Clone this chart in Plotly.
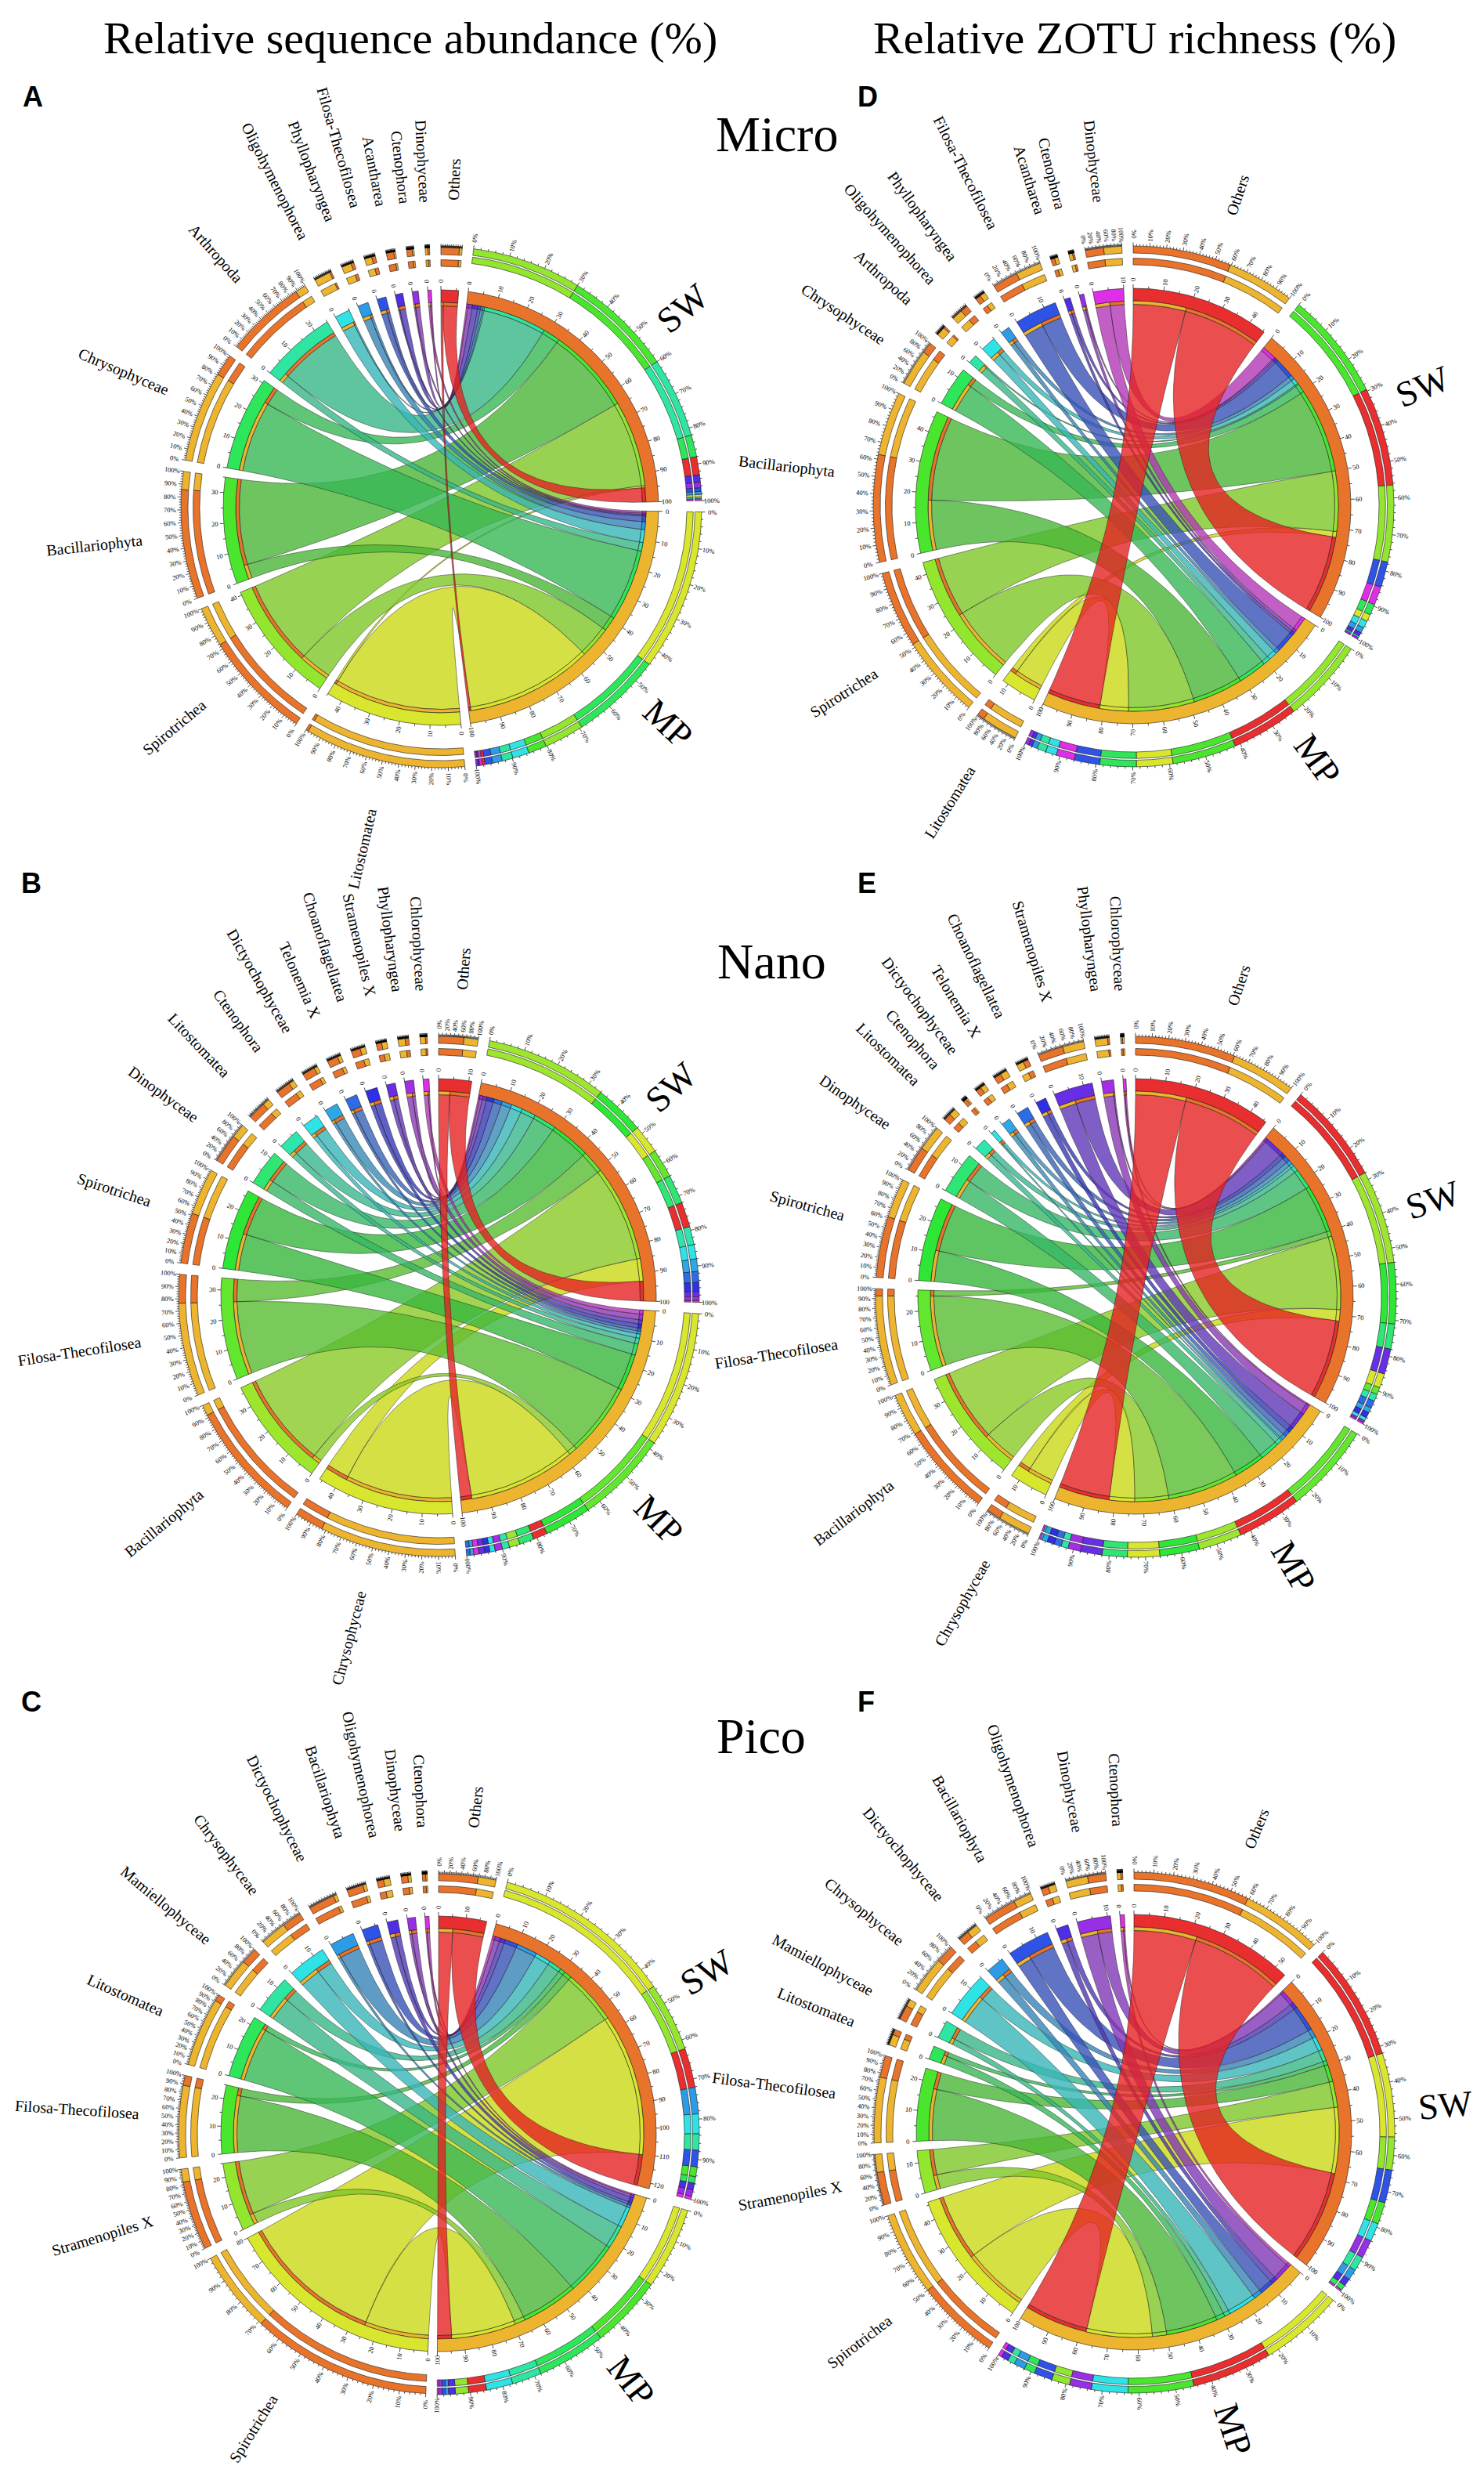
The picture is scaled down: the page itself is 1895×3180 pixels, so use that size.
import colorsys
import numpy as np
import plotly.graph_objects as go

W, H = 1895, 3180

# taxa are listed with "Others" first, then clockwise from the MP segment
# values: share of the SW and MP totals (%)

# A - Micro, sequence abundance
a_taxa = ["Others", "Litostomatea", "Spirotrichea", "Bacillariophyta", "Chrysophyceae", "Arthropoda",
          "Oligohymenophorea", "Phyllopharyngea", "Filosa-Thecofilosea", "Acantharea", "Ctenophora", "Dinophyceae"]
a_sw = [5, 0.7, 30, 30, 6, 22, 0.5, 0.8, 1, 2, 1.5, 0.5]
a_mp = [0.8, 44.3, 11, 5, 25, 3, 4.5, 2.7, 2, 0.5, 0.5, 0.7]

# D - Micro, ZOTU richness
d_taxa = a_taxa
d_sw = [27, 2, 21, 29.5, 3, 0.5, 2, 1.5, 7, 1, 0.5, 5]
d_mp = [18.5, 10, 23, 17.5, 10, 2.5, 3, 1.5, 7, 1, 1, 5]

# B - Nano, sequence abundance
b_taxa = ["Others", "Chrysophyceae", "Bacillariophyta", "Filosa-Thecofilosea", "Spirotrichea", "Dinophyceae",
          "Litostomatea", "Ctenophora", "Dictyochophyceae", "Telonemia X", "Choanoflagellatea",
          "Stramenopiles X", "Phyllopharyngea", "Chlorophyceae"]
b_sw = [7, 8, 34, 8, 14, 8, 5, 4, 3.5, 3, 2.5, 1.5, 1, 0.5]
b_mp = [4, 38, 3, 26, 13, 4, 2, 1.5, 1, 1, 1.5, 1.5, 2, 1.5]

# E - Nano, ZOTU richness
e_taxa = b_taxa
e_sw = [28, 4, 26, 2, 17, 7, 2, 1, 1.5, 2, 1.5, 7, 0.5, 0.5]
e_mp = [18, 9, 12, 25, 11, 7, 2, 0.5, 1.5, 2, 2, 6, 3.5, 0.5]

# C - Pico, sequence abundance (SW axis runs to ~122)
c_taxa = ["Others", "Spirotrichea", "Stramenopiles X", "Filosa-Thecofilosea", "Litostomatea", "Mamiellophyceae",
          "Chrysophyceae", "Dictyochophyceae", "Bacillariophyta", "Oligohymenophorea", "Dinophyceae", "Ctenophora"]
c_sw = [12, 55, 21, 3, 2, 5, 6, 8, 5, 2, 2, 1]
c_mp = [5.5, 25, 4, 22, 21, 9, 8, 1, 1, 2, 1, 0.5]

# F - Pico, ZOTU richness
f_taxa = c_taxa
f_sw = [32, 23, 9, 6, 1.5, 4, 5, 3, 9, 2, 5, 0.5]
f_mp = [22, 23, 5, 18, 3, 2, 10, 3, 5, 2, 6, 1]

# centre of each wheel and where its SW / MP labels sit (degrees clockwise from top)
panels = [
    dict(taxa=a_taxa, sw=a_sw, mp=a_mp, cx=555, cy=640, lab=(50.5, 133.5)),
    dict(taxa=d_taxa, sw=d_sw, mp=d_mp, cx=1439, cy=638, lab=(67.6, 144)),
    dict(taxa=b_taxa, sw=b_sw, mp=b_mp, cx=552, cy=1647, lab=(48, 135.4)),
    dict(taxa=e_taxa, sw=e_sw, mp=e_mp, cx=1442, cy=1647, lab=(72, 149.6)),
    dict(taxa=c_taxa, sw=c_sw, mp=c_mp, cx=552, cy=2716, lab=(59, 142)),
    dict(taxa=f_taxa, sw=f_sw, mp=f_mp, cx=1440, cy=2714, lab=(85, 161.5)),
]

SERIF = "Liberation Serif, Times New Roman, serif"
SANS = "Liberation Sans, Arial, sans-serif"

GAP = 2.5
R_RIB, R_STRIP, R_BAND = 257.5, 262, 278
R_TLAB = 289
RING1_TAXA = (308, 316.5)
RING1_GROUP = (314, 322.3)
RING2_TAXA = (323, 332)
RING2_GROUP = (324.5, 333)
R_PCT = 346.5
R_GROUP = 400
NAME_SIZE = 20


def hsv_hex(h, s, v):
    r, g, b = colorsys.hsv_to_rgb((h % 360) / 360.0, s, v)
    return "#%02x%02x%02x" % (round(r * 255), round(g * 255), round(b * 255))


def ribbon_rgba(h):
    if h < 30:
        s, v = 0.85, 0.9
    else:
        k = min(max((110 - h) / 50.0, 0), 1)
        s, v = 0.7 + 0.22 * k, 0.72 + 0.14 * k
    r, g, b = colorsys.hsv_to_rgb(h / 360.0, s, v)
    return "rgba(%d,%d,%d,0.8)" % (r * 255, g * 255, b * 255)


ORANGE = hsv_hex(23, 0.82, 0.91)
GOLD = hsv_hex(42, 0.8, 0.93)

ribbon_traces = []
fills = {}
tick_x, tick_y = [], []
annotations = []


def arc_pts(cx, cy, r, t0, t1):
    n = max(3, int(abs(t1 - t0) * 1.5) + 3)
    ts = np.radians(np.linspace(t0, t1, n))
    return list(cx + r * np.sin(ts)), list(cy - r * np.cos(ts))


def pt(cx, cy, r, th):
    t = np.radians(th)
    return cx + r * np.sin(t), cy - r * np.cos(t)


def bez_pts(p0, c, p2, n=40):
    t = np.linspace(0, 1, n)
    x = (1 - t) ** 2 * p0[0] + 2 * (1 - t) * t * c[0] + t ** 2 * p2[0]
    y = (1 - t) ** 2 * p0[1] + 2 * (1 - t) * t * c[1] + t ** 2 * p2[1]
    return list(x), list(y)


def add_sector(color, cx, cy, r0, r1, t0, t1):
    xo, yo = arc_pts(cx, cy, r1, t0, t1)
    xi, yi = arc_pts(cx, cy, r0, t1, t0)
    d = fills.setdefault(color, [[], []])
    d[0].extend(xo + xi + [xo[0], None])
    d[1].extend(yo + yi + [yo[0], None])


def ribbon_path(cx, cy, a0, a1, b0, b1):
    xs, ys = arc_pts(cx, cy, R_RIB, a0, a1)
    bx, by = bez_pts(pt(cx, cy, R_RIB, a1), (cx, cy), pt(cx, cy, R_RIB, b0))
    xs += bx; ys += by
    bx, by = arc_pts(cx, cy, R_RIB, b0, b1)
    xs += bx; ys += by
    bx, by = bez_pts(pt(cx, cy, R_RIB, b1), (cx, cy), pt(cx, cy, R_RIB, a0))
    xs += bx; ys += by
    return xs + [None], ys + [None]


def text_angle(th):
    th = th % 360
    return th - 90 if th < 180 else th - 270


def add_text(x, y, text, size, angle=0, family=SERIF):
    annotations.append(dict(x=x, y=y, xref="x", yref="y", text=text, showarrow=False,
                            textangle=angle, xanchor="center", yanchor="middle",
                            font=dict(size=size, family=family, color="black")))


def add_tick(cx, cy, th, r0, r1):
    x0, y0 = pt(cx, cy, r0, th)
    x1, y1 = pt(cx, cy, r1, th)
    tick_x.extend([x0, x1, None])
    tick_y.extend([y0, y1, None])


def draw_segment(cx, cy, st, size, unit, color, strip, comp, name, group_lab=None):
    span = size * unit
    en = st + span
    add_sector(color, cx, cy, R_STRIP, R_BAND, st, en)
    # thin inner strip coloured by the ribbon partner
    cur = st
    for v, c in strip:
        if v > 0:
            add_sector(c, cx, cy, R_RIB, R_STRIP, cur, cur + v * unit)
            cur += v * unit
    # two outer composition rings, largest part first
    rings = (RING1_GROUP, RING2_GROUP) if group_lab is not None else (RING1_TAXA, RING2_TAXA)
    tot = sum(v for v, _ in comp)
    for r0, r1 in rings:
        cur = st
        for v, c in comp:
            if v > 0:
                w = span * v / tot
                add_sector(c, cx, cy, r0, r1, cur, cur + w)
                cur += w
    # value ticks on the ideogram
    for v in range(0, int(size + 1e-6) + 1, 5):
        th = st + v * unit
        add_tick(cx, cy, th, R_BAND, R_BAND + (5 if v % 10 == 0 else 3))
        if v % 10 == 0:
            x, y = pt(cx, cy, R_TLAB, th)
            add_text(x, y, str(v), 8.5, text_angle(th))
    # percent ticks on the outer ring
    r_out = rings[1][1]
    for p in range(0, 101, 2):
        th = st + span * p / 100.0
        add_tick(cx, cy, th, r_out, r_out + (4.5 if p % 10 == 0 else 2.5))
    px10 = np.radians(span * 0.1) * R_PCT
    step = 10 if px10 >= 9 else (20 if 2 * px10 >= 9 else None)
    if step:
        for p in range(0, 101, step):
            th = st + span * p / 100.0
            x, y = pt(cx, cy, R_PCT, th)
            add_text(x, y, "%d%%" % p, 8.5, text_angle(th))
    mid = st + span / 2
    if group_lab is not None:
        x, y = pt(cx, cy, R_GROUP, group_lab)
        add_text(x, y, name, 46, text_angle(group_lab))
    else:
        w = 0.45 * NAME_SIZE * len(name)
        r_name = 376 + 17 * abs(np.cos(np.radians(mid)))
        x, y = pt(cx, cy, r_name + w / 2, mid)
        add_text(x, y, name, NAME_SIZE, text_angle(mid))


def draw_panel(taxa, sw, mp, cx, cy, lab):
    n = len(taxa)
    hues = [0.0] + list(np.linspace(64, 298, n - 1))
    cols = [hsv_hex(hues[0], 0.8, 0.91)] + [hsv_hex(h, 0.8, 0.9) for h in hues[1:]]
    tot = [s + m for s, m in zip(sw, mp)]
    sizes = [tot[0], sum(sw), sum(mp)] + tot[1:]
    unit = (360 - len(sizes) * GAP) / sum(sizes)
    starts = [0.0]
    for s in sizes[:-1]:
        starts.append(starts[-1] + s * unit + GAP)
    t_start = {0: starts[0]}
    for i in range(1, n):
        t_start[i] = starts[i + 2]
    g_start = {"SW": starts[1], "MP": starts[2]}

    # ribbon slots inside the SW and MP segments
    rib_order = list(range(n - 1, 0, -1)) + [0]
    slots = {}
    for g, vals in (("SW", sw), ("MP", mp)):
        cur = g_start[g]
        for i in rib_order:
            slots[(g, i)] = (cur, cur + vals[i] * unit)
            cur += vals[i] * unit

    for i in list(range(1, n)) + [0]:
        xs, ys = [], []
        st = t_start[i]
        src = {"MP": (st, st + mp[i] * unit), "SW": (st + mp[i] * unit, st + tot[i] * unit)}
        for g in ("MP", "SW"):
            a0, a1 = src[g]
            b0, b1 = slots[(g, i)]
            if a1 - a0 <= 0:
                continue
            px, py = ribbon_path(cx, cy, a0, a1, b0, b1)
            xs += px; ys += py
        ribbon_traces.append(go.Scatter(x=xs, y=ys, mode="lines", fill="toself",
                                        fillcolor=ribbon_rgba(hues[i]),
                                        line=dict(color="rgba(25,25,25,0.75)", width=0.6),
                                        hoverinfo="skip", showlegend=False))

    for i in range(n):
        comp = sorted([(sw[i], ORANGE), (mp[i], GOLD)], key=lambda t: -t[0])
        draw_segment(cx, cy, t_start[i], tot[i], unit, cols[i],
                     [(mp[i], GOLD), (sw[i], ORANGE)], comp, taxa[i])
    for g, vals, col, la in (("SW", sw, ORANGE, lab[0]), ("MP", mp, GOLD, lab[1])):
        strip = [(vals[i], cols[i]) for i in rib_order]
        comp = sorted([(vals[i], cols[i]) for i in range(n)], key=lambda t: -t[0])
        draw_segment(cx, cy, g_start[g], sum(vals), unit, col, strip, comp, g, group_lab=la)


for p in panels:
    draw_panel(p["taxa"], p["sw"], p["mp"], p["cx"], p["cy"], p["lab"])

fig = go.Figure()
for t in ribbon_traces:
    fig.add_trace(t)
for color, (xs, ys) in fills.items():
    fig.add_trace(go.Scatter(x=xs, y=ys, mode="lines", fill="toself", fillcolor=color,
                             line=dict(color="#1a1a1a", width=0.6), hoverinfo="skip", showlegend=False))
fig.add_trace(go.Scatter(x=tick_x, y=tick_y, mode="lines", line=dict(color="black", width=0.7),
                         hoverinfo="skip", showlegend=False))

# headings
add_text(516, 40, "Relative sequence abundance (%)", 58)
add_text(1441, 40, "Relative ZOTU richness (%)", 58)
for label, x, y in (("Micro", 984, 163), ("Nano", 977, 1219), ("Pico", 964, 2208)):
    add_text(x, y, label, 64)
for letter, x, y in (("A", 34, 115), ("D", 1100, 115), ("B", 32, 1119),
                     ("E", 1099, 1119), ("C", 32, 2164), ("F", 1098, 2164)):
    add_text(x, y, "<b>%s</b>" % letter, 36, family=SANS)

fig.update_layout(
    width=W, height=H,
    margin=dict(l=0, r=0, t=0, b=0),
    paper_bgcolor="white", plot_bgcolor="white",
    xaxis=dict(range=[0, W], visible=False, fixedrange=True),
    yaxis=dict(range=[H, 0], visible=False, fixedrange=True),
    annotations=annotations,
    showlegend=False,
)

fig.write_html("out.html")
